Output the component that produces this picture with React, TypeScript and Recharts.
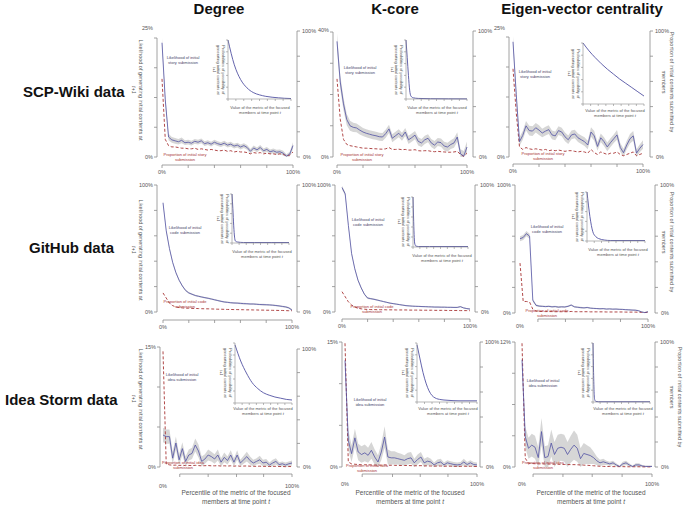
import React from 'react';
import { ComposedChart, LineChart, Line, Area, XAxis, YAxis, ReferenceLine } from 'recharts';

const FONT = '"Liberation Sans", Arial, Helvetica, sans-serif';
const AX = '#8c8c8c';
const TXT = '#555555';
const BLUE = '#5252a3';
const RED = '#a83434';
const BAND = '#d6d6d6';

// ---------- data ----------
const percentile = [0, 2.5, 5, 7.5, 10, 12.5, 15, 17.5, 20, 22.5, 25, 27.5, 30, 32.5, 35, 37.5, 40, 42.5, 45, 47.5, 50, 52.5, 55, 57.5, 60, 62.5, 65, 67.5, 70, 72.5, 75, 77.5, 80, 82.5, 85, 87.5, 90, 92.5, 95, 97.5, 100];

const scpDegreeLikelihood = [24, 12, 4.2, 3.6, 3.4, 3.2, 3.5, 3.0, 3.1, 2.9, 3.3, 3.1, 3.4, 2.8, 3.0, 2.7, 3.1, 2.8, 2.6, 2.9, 2.5, 2.7, 2.3, 2.5, 2.1, 2.4, 2.0, 1.2, 1.9, 1.5, 2.0, 1.3, 1.6, 1.1, 1.3, 1.0, 1.1, 0.8, 0.2, 0.6, 2.4];
const scpDegreeSpread = [1.0, 0.9, 0.7, 0.6, 0.6, 0.6, 0.6, 0.5, 0.5, 0.5, 0.5, 0.5, 0.5, 0.5, 0.5, 0.5, 0.5, 0.5, 0.5, 0.5, 0.5, 0.5, 0.5, 0.5, 0.5, 0.5, 0.5, 0.5, 0.5, 0.5, 0.5, 0.5, 0.5, 0.5, 0.5, 0.5, 0.5, 0.5, 0.4, 0.5, 0.7];
const scpDegreeProportion = [62, 14, 9, 8, 8, 7.5, 7, 7, 6.5, 6.5, 7, 6, 6.5, 6, 5.5, 6, 5.5, 5, 5, 5.5, 4.5, 5, 4, 4.5, 4, 4, 3.5, 2.5, 3.5, 3, 3.5, 2.5, 3, 2.5, 2.5, 2, 2.5, 2, 1, 1.5, 4];

const scpKcoreLikelihood = [37, 24, 17, 12, 10, 9.5, 9.3, 8.6, 8, 7.6, 7.3, 7, 6.8, 6.5, 6.4, 7.5, 9, 6, 6.8, 7.6, 6.5, 8, 5.5, 6.2, 7, 5, 4.5, 5.5, 6, 4.5, 3.8, 4.8, 4.6, 3.5, 3.2, 4, 4.5, 6.4, 1.0, 0.3, 3.2];
const scpKcoreSpread = [2.5, 2.2, 2.0, 1.8, 1.6, 1.5, 1.4, 1.4, 1.3, 1.3, 1.3, 1.3, 1.3, 1.3, 1.3, 1.3, 1.3, 1.3, 1.3, 1.3, 1.3, 1.3, 1.3, 1.3, 1.3, 1.3, 1.3, 1.3, 1.3, 1.3, 1.3, 1.3, 1.3, 1.4, 1.4, 1.4, 1.5, 1.5, 1.5, 1.6, 1.8];
const scpKcoreProportion = [62, 30, 14, 10, 9, 8.5, 8, 7.5, 7, 7, 6.8, 6.6, 6.5, 6.3, 6.2, 6.5, 7.5, 6, 6, 6.2, 5.8, 6, 5.5, 5.5, 5.8, 5, 4.8, 5, 5, 4.5, 4.2, 4.5, 4.2, 4, 3.8, 3.8, 4, 4.5, 2, 0.5, 3];

const scpEigenLikelihood = [24, 13, 3.2, 4.5, 6.5, 5.5, 5.4, 6.1, 5.6, 5.0, 5.4, 5.7, 4.6, 4.4, 5.5, 5.2, 4.2, 3.6, 4.6, 4.8, 4.0, 3.6, 3.2, 2.5, 5.2, 4.4, 2.2, 4.0, 3.2, 2.1, 3.0, 3.8, 4.6, 2.0, 0.9, 2.5, 3.8, 4.4, 0.8, 1.8, 2.6];
const scpEigenSpread = [1.2, 1.1, 0.9, 0.9, 1.0, 1.0, 1.0, 1.0, 1.0, 0.9, 0.9, 0.9, 0.9, 0.9, 0.9, 0.9, 0.9, 0.9, 0.9, 0.9, 0.9, 0.9, 0.9, 0.9, 1.0, 1.0, 0.9, 0.9, 0.9, 0.9, 0.9, 0.9, 1.0, 0.9, 0.8, 0.9, 1.0, 1.0, 0.8, 0.8, 0.9];
const scpEigenProportion = [70, 35, 8, 6, 7.5, 6.5, 6, 6.5, 6, 5.5, 6, 5, 5.5, 5, 5.5, 5, 4.5, 5, 5, 4.5, 4, 4.5, 4, 3, 6, 3.5, 2, 4, 3, 2, 3, 3, 4, 2, 1, 2, 3, 4, 1, 2, 3];

const githubDegreeLikelihood = [86, 64, 50, 39, 31, 25, 20.5, 17, 15, 14, 13, 12.4, 11.8, 11.3, 10.8, 10.2, 9.6, 9.0, 8.4, 7.9, 7.6, 7.3, 7.1, 7.0, 6.8, 6.6, 6.5, 6.3, 6.3, 6.1, 5.9, 5.8, 5.7, 5.6, 5.4, 5.1, 4.8, 4.4, 4.0, 3.3, 1.5];
const githubDegreeSpread = [1.5, 1.2, 1.0, 0.9, 0.8, 0.8, 0.7, 0.7, 0.7, 0.6, 0.6, 0.6, 0.6, 0.6, 0.6, 0.6, 0.6, 0.6, 0.6, 0.6, 0.6, 0.6, 0.6, 0.6, 0.6, 0.6, 0.6, 0.6, 0.6, 0.6, 0.6, 0.6, 0.6, 0.6, 0.6, 0.6, 0.6, 0.6, 0.7, 0.7, 0.8];
const githubDegreeProportion = [15, 11, 7, 5, 4, 3.5, 3.2, 3, 3, 2.8, 2.8, 2.7, 2.6, 2.5, 2.5, 2.4, 2.3, 2.2, 2.2, 2.1, 2, 2, 1.9, 1.9, 1.8, 1.8, 1.7, 1.7, 1.6, 1.6, 1.5, 1.5, 1.4, 1.4, 1.3, 1.3, 1.2, 1.2, 1.1, 1, 1];

const githubKcoreLikelihood = [98, 93, 68, 46, 34, 25, 19, 14, 11, 10.5, 10, 9.4, 8.8, 8.2, 7.6, 7.0, 6.6, 6.2, 5.8, 5.4, 5.0, 4.8, 4.6, 4.5, 4.4, 4.3, 4.2, 4.1, 4.0, 3.9, 3.9, 3.8, 3.8, 3.7, 3.7, 3.6, 3.6, 4.2, 3.2, 2.7, 2.3];
const githubKcoreSpread = [1.5, 1.5, 1.3, 1.2, 1.0, 0.9, 0.8, 0.7, 0.7, 0.6, 0.6, 0.6, 0.5, 0.5, 0.5, 0.5, 0.5, 0.5, 0.5, 0.5, 0.5, 0.5, 0.5, 0.5, 0.5, 0.5, 0.5, 0.5, 0.5, 0.5, 0.5, 0.5, 0.5, 0.5, 0.5, 0.5, 0.5, 0.5, 0.5, 0.5, 0.6];
const githubKcoreProportion = [16, 12, 8, 5.5, 4, 3, 2.5, 2.2, 2, 1.9, 1.9, 1.8, 1.8, 1.8, 1.7, 1.7, 1.7, 1.6, 1.6, 1.6, 1.6, 1.5, 1.5, 1.5, 1.5, 1.4, 1.4, 1.4, 1.4, 1.3, 1.3, 1.3, 1.3, 1.2, 1.2, 1.2, 1.2, 1.1, 1.1, 1.1, 1];

const githubEigenLikelihood = [58, 59, 62, 60, 10, 6, 5.4, 5.2, 5.0, 5.2, 4.8, 5.0, 4.6, 4.8, 4.7, 5.2, 6.2, 4.8, 4.5, 4.2, 4.0, 4.3, 3.8, 3.6, 3.5, 3.3, 3.4, 3.1, 3.2, 3.0, 3.1, 2.9, 2.8, 2.6, 2.5, 2.3, 2.2, 1.8, 0.8, 0.3, 1.0];
const githubEigenSpread = [2.0, 2.0, 2.0, 2.0, 1.2, 0.8, 0.7, 0.6, 0.6, 0.6, 0.6, 0.6, 0.6, 0.6, 0.6, 0.6, 0.6, 0.6, 0.6, 0.6, 0.5, 0.5, 0.5, 0.5, 0.5, 0.5, 0.5, 0.5, 0.5, 0.5, 0.5, 0.5, 0.5, 0.5, 0.5, 0.5, 0.5, 0.5, 0.5, 0.5, 0.5];
const githubEigenProportion = [39, 9, 9, 8.5, 3, 1.5, 1.2, 1.2, 1.1, 1.1, 1.1, 1, 1, 1, 1, 1, 1.2, 1, 1, 1, 1, 1, 0.9, 0.9, 0.9, 0.9, 0.9, 0.8, 0.8, 0.8, 0.8, 0.8, 0.8, 0.7, 0.7, 0.7, 0.7, 0.6, 0.5, 0.4, 0.5];

const ideaDegreeLikelihood = [4.0, 3.8, 3.8, 1.1, 3.0, 0.9, 2.3, 0.7, 1.5, 1.7, 2.75, 2.0, 0.7, 1.0, 1.5, 1.3, 1.0, 1.5, 0.6, 1.2, 0.8, 1.5, 0.6, 1.5, 0.5, 0.9, 1.3, 0.8, 0.5, 0.7, 0.9, 0.5, 0.6, 0.25, 0.5, 0.7, 0.3, 0.4, 0.25, 0.4, 0.5];
const ideaDegreeSpread = [0.9, 0.9, 0.9, 0.8, 0.8, 0.7, 0.8, 0.6, 0.7, 0.7, 0.8, 0.8, 0.6, 0.6, 0.7, 0.6, 0.6, 0.7, 0.5, 0.6, 0.5, 0.6, 0.5, 0.6, 0.4, 0.5, 0.6, 0.5, 0.4, 0.4, 0.5, 0.4, 0.4, 0.3, 0.4, 0.4, 0.3, 0.3, 0.3, 0.3, 0.3];
const ideaDegreeProportion = [98, 2.5, 1.8, 1.5, 1.6, 1.3, 1.5, 1.2, 1.3, 1.2, 1.4, 1.2, 1.0, 1.1, 1.2, 1.0, 1.0, 1.1, 0.8, 1.0, 0.8, 1.0, 0.7, 1.0, 0.6, 0.8, 0.9, 0.7, 0.6, 0.6, 0.7, 0.5, 0.6, 0.4, 0.5, 0.6, 0.4, 0.4, 0.3, 0.4, 0.4];

const ideaKcoreLikelihood = [12.8, 3.2, 1.6, 3.5, 1.8, 1.5, 1.7, 1.4, 2.0, 1.2, 0.6, 1.8, 3.6, 1.2, 1.1, 1.1, 1.0, 0.9, 0.8, 1.0, 1.1, 0.5, 0.9, 1.2, 0.5, 0.7, 0.6, 0.25, 0.5, 0.6, 0.25, 0.5, 0.4, 0.3, 0.25, 0.3, 0.6, 0.3, 0.5, 0.3, 0.25];
const ideaKcoreSpread = [1.2, 1.2, 1.0, 1.1, 1.0, 1.0, 1.0, 0.9, 1.0, 0.9, 0.8, 1.0, 1.3, 0.9, 0.8, 0.8, 0.7, 0.7, 0.6, 0.7, 0.7, 0.5, 0.6, 0.6, 0.5, 0.5, 0.4, 0.3, 0.4, 0.4, 0.3, 0.3, 0.3, 0.3, 0.3, 0.3, 0.4, 0.3, 0.3, 0.3, 0.3];
const ideaKcoreProportion = [99, 4, 2.5, 2.2, 2, 1.8, 1.8, 1.7, 1.7, 1.6, 1.5, 1.5, 1.8, 1.4, 1.4, 1.3, 1.3, 1.2, 1.2, 1.2, 1.1, 1.0, 1.0, 1.1, 0.9, 0.9, 0.8, 0.7, 0.8, 0.8, 0.6, 0.7, 0.6, 0.6, 0.5, 0.5, 0.7, 0.5, 0.6, 0.5, 0.4];

const ideaEigenLikelihood = [10.3, 2.9, 1.8, 2.1, 1.9, 0.9, 3.4, 0.9, 1.0, 2.3, 1.2, 1.8, 1.9, 1.8, 1.2, 1.7, 2.1, 1.8, 0.8, 1.3, 1.2, 1.1, 0.9, 0.6, 0.4, 0.5, 0.4, 0.3, 0.4, 0.2, 0.05, 0.3, 0.4, 0.2, 0.05, 0.2, 0.2, 0.1, 0.05, 0.05, 0.05];
const ideaEigenSpread = [0.8, 1.0, 1.0, 1.1, 1.1, 1.0, 1.3, 1.1, 1.1, 1.3, 1.2, 1.3, 1.3, 1.3, 1.2, 1.3, 1.4, 1.3, 1.0, 1.0, 0.9, 0.8, 0.6, 0.4, 0.3, 0.3, 0.2, 0.2, 0.2, 0.15, 0.1, 0.2, 0.2, 0.15, 0.1, 0.15, 0.15, 0.1, 0.1, 0.1, 0.1];
const ideaEigenProportion = [99, 7, 3, 2.8, 2.6, 2.5, 2.5, 2.4, 2.4, 2.3, 2.2, 2.2, 2.1, 2.0, 2.0, 1.9, 1.9, 1.8, 1.6, 1.5, 1.4, 1.2, 1.0, 0.8, 0.6, 0.5, 0.4, 0.4, 0.3, 0.3, 0.3, 0.3, 0.2, 0.2, 0.2, 0.2, 0.2, 0.1, 0.1, 0.1, 0.1];

// inset curves (metric value vs. probability, normalised)
const scpDegreeInsetX = [0, 1, 2, 3, 4, 5, 6, 7, 8, 9, 10];
const scpDegreeInsetY = [1.0, 0.58, 0.33, 0.19, 0.11, 0.07, 0.045, 0.03, 0.02, 0.012, 0.008];
const scpKcoreInsetX = [0, 0.2, 0.4, 0.6, 0.8, 1.2, 2, 4, 7, 10];
const scpKcoreInsetY = [1.0, 0.7, 0.4, 0.15, 0.05, 0.02, 0.01, 0.005, 0.003, 0.002];
const scpEigenInsetX = [0, 1, 2, 3, 4, 5, 6, 7, 8, 9, 10];
const scpEigenInsetY = [1.0, 0.87, 0.76, 0.66, 0.57, 0.49, 0.41, 0.34, 0.27, 0.2, 0.13];
const githubDegreeInsetX = [0, 0.15, 0.3, 0.45, 0.6, 1, 2, 4, 7, 10];
const githubDegreeInsetY = [1.0, 0.7, 0.35, 0.12, 0.04, 0.02, 0.01, 0.01, 0.01, 0.01];
const githubKcoreInsetX = [0, 0.1, 0.2, 0.3, 0.5, 1, 3, 10];
const githubKcoreInsetY = [1.0, 0.6, 0.25, 0.08, 0.02, 0.01, 0.01, 0.01];
const githubEigenInsetX = [0, 0.5, 1, 1.5, 2, 3, 4, 10];
const githubEigenInsetY = [1.0, 0.5, 0.19, 0.09, 0.05, 0.02, 0.01, 0.01];
const ideaDegreeInsetX = [0, 1, 2, 3, 4, 5, 6, 7, 8, 9, 10];
const ideaDegreeInsetY = [0.97, 0.7, 0.5, 0.34, 0.24, 0.17, 0.13, 0.1, 0.08, 0.06, 0.05];
const ideaKcoreInsetX = [0, 0.5, 1, 1.5, 2, 2.5, 3, 4, 5, 7, 10];
const ideaKcoreInsetY = [0.97, 0.73, 0.5, 0.32, 0.19, 0.11, 0.07, 0.04, 0.03, 0.02, 0.02];
const ideaEigenInsetX = [0, 0.1, 0.2, 0.3, 0.5, 1, 10];
const ideaEigenInsetY = [1.0, 0.5, 0.15, 0.04, 0.01, 0.005, 0.005];

const columnTitles = ['Degree', 'K-core', 'Eigen-vector centrality'];
const rowTitles = ['SCP-Wiki data', 'GitHub data', 'Idea Storm data'];
const contentWords = ['story', 'code', 'idea'];
const fullXTicks = [0, 20, 40, 60, 80, 100];
const rightTicks = [0, 20, 40, 60, 80, 100];
const insetXTicks = [0, 1.25, 2.5, 3.75, 5, 6.25, 7.5, 8.75, 10];
const insetYTicks = [0, 0.2, 0.4, 0.6, 0.8, 1];

// ---------- layout ----------
const panels = [
  { row: 0, lik: scpDegreeLikelihood, spread: scpDegreeSpread, prop: scpDegreeProportion, maxL: 25, ticksL: [0, 6.25, 12.5, 18.75, 25], ix: scpDegreeInsetX, iy: scpDegreeInsetY,
    geo: { leftX: 157, rightX: 297, x0: 162, x100: 293, topL: 38, topR: 31, zeroY: 157, axisY: 165, xTicks: fullXTicks, xStart: 0, xLabelDy: 9, topDy: -8 },
    inset: { axisX: 228, top: 40, bottom: 99, right: 291, labelX: 260, labelY: 105 },
    ann: { lx: 183, ly: 55, px: 185, py: 152 } },
  { row: 0, lik: scpKcoreLikelihood, spread: scpKcoreSpread, prop: scpKcoreProportion, maxL: 40, ticksL: [0, 10, 20, 30, 40], ix: scpKcoreInsetX, iy: scpKcoreInsetY,
    geo: { leftX: 333, rightX: 473, x0: 337, x100: 467, topL: 32, topR: 31, zeroY: 157, axisY: 165, xTicks: fullXTicks, xStart: 0, xLabelDy: 9, topDy: 0 },
    inset: { axisX: 406, top: 40, bottom: 99, right: 467, labelX: 437, labelY: 105 },
    ann: { lx: 360, ly: 65, px: 362, py: 152 } },
  { row: 0, lik: scpEigenLikelihood, spread: scpEigenSpread, prop: scpEigenProportion, maxL: 25, ticksL: [0, 6.25, 12.5, 18.75, 25], ix: scpEigenInsetX, iy: scpEigenInsetY,
    geo: { leftX: 509, rightX: 650, x0: 513, x100: 643, topL: 37, topR: 31, zeroY: 157, axisY: 164, xTicks: fullXTicks, xStart: 0, xLabelDy: 9, topDy: -7 },
    inset: { axisX: 583, top: 43, bottom: 104, right: 644, labelX: 615, labelY: 108 },
    ann: { lx: 535, ly: 69, px: 543, py: 151 } },
  { row: 1, lik: githubDegreeLikelihood, spread: githubDegreeSpread, prop: githubDegreeProportion, maxL: 100, ticksL: [0, 20, 40, 60, 80, 100], ix: githubDegreeInsetX, iy: githubDegreeInsetY,
    geo: { leftX: 157, rightX: 297, x0: 163, x100: 292, topL: 185, topR: 185, zeroY: 312, axisY: 320, xTicks: fullXTicks, xStart: 0, xLabelDy: 9, topDy: 2 },
    inset: { axisX: 232, top: 194, bottom: 243, right: 289, labelX: 262, labelY: 249 },
    ann: { lx: 185, ly: 225, px: 185, py: 299 } },
  { row: 1, lik: githubKcoreLikelihood, spread: githubKcoreSpread, prop: githubKcoreProportion, maxL: 100, ticksL: [0, 20, 40, 60, 80, 100], ix: githubKcoreInsetX, iy: githubKcoreInsetY,
    geo: { leftX: 335, rightX: 475, x0: 342, x100: 470, topL: 185, topR: 185, zeroY: 312, axisY: 319, xTicks: fullXTicks, xStart: 0, xLabelDy: 9, topDy: 2 },
    inset: { axisX: 413, top: 197, bottom: 247, right: 468, labelX: 442, labelY: 253 },
    ann: { lx: 368, ly: 217, px: 372, py: 304 } },
  { row: 1, lik: githubEigenLikelihood, spread: githubEigenSpread, prop: githubEigenProportion, maxL: 100, ticksL: [0, 20, 40, 60, 80, 100], ix: githubEigenInsetX, iy: githubEigenInsetY,
    geo: { leftX: 515, rightX: 655, x0: 520, x100: 648, topL: 185, topR: 185, zeroY: 313, axisY: 319, xTicks: [14, 35.5, 57, 78.5, 100], xStart: 14, xLabelDy: 9, topDy: 2 },
    inset: { axisX: 587, top: 192, bottom: 241, right: 645, labelX: 618, labelY: 247 },
    ann: { lx: 547, ly: 224, px: 547, py: 308 } },
  { row: 2, lik: ideaDegreeLikelihood, spread: ideaDegreeSpread, prop: ideaDegreeProportion, maxL: 15, ticksL: [0, 5, 10, 15], ix: ideaDegreeInsetX, iy: ideaDegreeInsetY,
    geo: { leftX: 160, rightX: 297, x0: 163, x100: 292, topL: 347, topR: 349, zeroY: 467, axisY: 474, xTicks: [13, 35, 57, 78, 100], xStart: 13, xLabelDy: 14, topDy: 2 },
    inset: { axisX: 235, top: 343, bottom: 403, right: 292, labelX: 263, labelY: 406 },
    ann: { lx: 182, ly: 372, px: 183, py: 460 } },
  { row: 2, lik: ideaKcoreLikelihood, spread: ideaKcoreSpread, prop: ideaKcoreProportion, maxL: 15, ticksL: [0, 5, 10, 15], ix: ideaKcoreInsetX, iy: ideaKcoreInsetY,
    geo: { leftX: 342, rightX: 480, x0: 345, x100: 477, topL: 342, topR: 342, zeroY: 467, axisY: 474, xTicks: [13, 36, 57, 78, 100], xStart: 13, xLabelDy: 12, topDy: 2 },
    inset: { axisX: 417, top: 343, bottom: 402, right: 477, labelX: 448, labelY: 406 },
    ann: { lx: 370, ly: 397, px: 367, py: 463 } },
  { row: 2, lik: ideaEigenLikelihood, spread: ideaEigenSpread, prop: ideaEigenProportion, maxL: 12, ticksL: [0, 3, 6, 9, 12], ix: ideaEigenInsetX, iy: ideaEigenInsetY,
    geo: { leftX: 515, rightX: 655, x0: 522, x100: 652, topL: 342, topR: 342, zeroY: 467, axisY: 474, xTicks: [8.5, 31.5, 54, 77, 100], xStart: 8.5, xLabelDy: 12, topDy: 2 },
    inset: { axisX: 593, top: 343, bottom: 402, right: 650, labelX: 623, labelY: 406 },
    ann: { lx: 543, ly: 378, px: 543, py: 460 } },
];

const YW = 30;
const XH = 24;
const MT = 14;

function MainPanel({ p }: { p: any }) {
  const g = p.geo;
  const plotTop = Math.min(g.topL, g.topR);
  const pxL = (g.zeroY - g.topL) / p.maxL;
  const lMin = -(g.axisY - g.zeroY) / pxL;
  const lMax = (g.zeroY - plotTop) / pxL;
  const pxR = (g.zeroY - g.topR) / 100;
  const rMin = -(g.axisY - g.zeroY) / pxR;
  const rMax = (g.zeroY - plotTop) / pxR;
  const pxX = (g.x100 - g.x0) / 100;
  const xMin = -(g.x0 - g.leftX) / pxX;
  const xMax = 100 + (g.rightX - g.x100) / pxX;
  const data = percentile.map((x, i) => ({
    x,
    lik: p.lik[i],
    band: [Math.max(0, p.lik[i] - p.spread[i]), p.lik[i] + p.spread[i]],
    prop: p.prop[i],
  }));
  const xTickSet = Array.from(new Set([0, ...g.xTicks, 100])).sort((a: number, b: number) => a - b);
  const width = g.rightX - g.leftX + 2 * YW;
  const height = g.axisY - plotTop + MT + XH;

  const xTick = (props: any) => {
    const { x, y, payload } = props;
    const v = payload.value;
    const base = y - 3;
    return (
      <g>
        {g.xTicks.includes(v) && <line x1={x} x2={x} y1={base} y2={base + 3} stroke={AX} strokeWidth={0.8} />}
        {(v === 0 || v === 100) && (
          <text x={x} y={base + g.xLabelDy} textAnchor="middle" fontSize={5.5} fill={TXT} fontFamily={FONT}>{v}%</text>
        )}
      </g>
    );
  };
  const lTick = (props: any) => {
    const { x, y, payload } = props;
    const v = payload.value;
    if (v === 0) return <text x={x} y={y + 2} textAnchor="end" fontSize={5.5} fill={TXT} fontFamily={FONT}>0%</text>;
    if (v === p.maxL) return <text x={x} y={y + g.topDy} textAnchor="end" fontSize={5.5} fill={TXT} fontFamily={FONT}>{p.maxL}%</text>;
    return <g />;
  };
  const rTick = (props: any) => {
    const { x, y, payload } = props;
    const v = payload.value;
    if (v === 0) return <text x={x + 2} y={y + 2} textAnchor="start" fontSize={5.5} fill={TXT} fontFamily={FONT}>0%</text>;
    if (v === 100) return <text x={x + 1} y={y + 2} textAnchor="start" fontSize={5.5} fill={TXT} fontFamily={FONT}>100%</text>;
    return <g />;
  };

  return (
    <div style={{ position: 'absolute', left: g.leftX - YW, top: plotTop - MT }}>
      <ComposedChart width={width} height={height} data={data} margin={{ top: MT, right: 0, bottom: 0, left: 0 }}>
        <XAxis xAxisId="x" dataKey="x" type="number" domain={[xMin, xMax]} allowDataOverflow ticks={xTickSet} interval={0}
          axisLine={false} tickLine={false} tickSize={3} tickMargin={0} height={XH} tick={xTick} />
        <YAxis yAxisId="l" orientation="left" type="number" domain={[lMin, lMax]} allowDataOverflow ticks={p.ticksL} interval={0}
          width={YW} axisLine={false} tickLine={{ stroke: AX, strokeWidth: 0.8 }} tickSize={3} tickMargin={1} tick={lTick} />
        <YAxis yAxisId="r" orientation="right" type="number" domain={[rMin, rMax]} allowDataOverflow ticks={rightTicks} interval={0}
          width={YW} axisLine={false} tickLine={{ stroke: AX, strokeWidth: 0.8 }} tickSize={3} tickMargin={1} tick={rTick} />
        <Area xAxisId="x" yAxisId="l" dataKey="band" type="linear" stroke="none" fill={BAND} fillOpacity={1} isAnimationActive={false} />
        <Line xAxisId="x" yAxisId="r" dataKey="prop" type="linear" stroke={RED} strokeWidth={0.9} strokeDasharray="3 2" dot={false} isAnimationActive={false} />
        <Line xAxisId="x" yAxisId="l" dataKey="lik" type="linear" stroke={BLUE} strokeWidth={0.8} dot={false} isAnimationActive={false} />
        <ReferenceLine xAxisId="x" yAxisId="l" ifOverflow="visible" stroke={AX} strokeWidth={0.8}
          segment={[{ x: xMin, y: 0 }, { x: xMin, y: p.maxL }]} />
        <ReferenceLine xAxisId="x" yAxisId="r" ifOverflow="visible" stroke={AX} strokeWidth={0.8}
          segment={[{ x: xMax, y: 0 }, { x: xMax, y: 100 }]} />
        <ReferenceLine xAxisId="x" yAxisId="l" ifOverflow="visible" stroke={AX} strokeWidth={0.8}
          segment={[{ x: g.xStart, y: lMin }, { x: 100, y: lMin }]} />
      </ComposedChart>
    </div>
  );
}

const emptyTick = () => <g />;

function InsetPanel({ p }: { p: any }) {
  const q = p.inset;
  const IW = 3, IH = 3, IT = 2, IR = 2;
  const data = p.ix.map((x: number, i: number) => ({ x, y: p.iy[i] }));
  const width = q.right - q.axisX + IW + IR;
  const height = q.bottom - q.top + IT + IH;
  return (
    <div style={{ position: 'absolute', left: q.axisX - IW, top: q.top - IT }}>
      <LineChart width={width} height={height} data={data} margin={{ top: IT, right: IR, bottom: 0, left: 0 }}>
        <XAxis dataKey="x" type="number" domain={[0, 10]} ticks={insetXTicks} interval={0} height={IH} tickSize={2}
          tick={emptyTick} axisLine={{ stroke: AX, strokeWidth: 0.6 }} tickLine={{ stroke: AX, strokeWidth: 0.6 }} />
        <YAxis type="number" domain={[0, 1]} ticks={insetYTicks} interval={0} width={IW} tickSize={2}
          tick={emptyTick} axisLine={{ stroke: AX, strokeWidth: 0.6 }} tickLine={{ stroke: AX, strokeWidth: 0.6 }} />
        <Line dataKey="y" type="monotone" stroke={BLUE} strokeWidth={0.9} dot={false} isAnimationActive={false} />
      </LineChart>
    </div>
  );
}

const abs = (extra: any): any => ({ position: 'absolute', fontFamily: FONT, whiteSpace: 'nowrap', ...extra });

function CenterText({ x, y, size, lh, color, children, weight }: any) {
  return (
    <div style={abs({ left: x - 100, top: y, width: 200, textAlign: 'center', fontSize: size, lineHeight: `${lh}px`, color, fontWeight: weight || 'normal' })}>
      {children}
    </div>
  );
}

// text rotated 90deg clockwise; (cx, cy) is the centre of the block, first line ends up on the right
function RotatedText({ cx, cy, len, lines, size, lh, color, children }: any) {
  const h = lines * lh;
  return (
    <div style={abs({ left: cx - len / 2, top: cy - h / 2, width: len, height: h, textAlign: 'center', fontSize: size, lineHeight: `${lh}px`, color, transform: 'rotate(90deg)', transformOrigin: '50% 50%' })}>
      {children}
    </div>
  );
}

export default function App() {
  const colCenters = [219, 395, 582];
  const rowTitlePos = [{ x: 23, y: 83 }, { x: 29, y: 239 }, { x: 5, y: 391 }];
  const leftLabelCy = [90, 250, 399];
  const rightLabel = [{ cx: 668, cy: 82 }, { cx: 668, cy: 242 }, { cx: 676, cy: 397 }];
  const bottomCenters = [236, 410, 591];
  return (
    <div style={{ position: 'absolute', left: 0, top: 0, width: 685, height: 505, background: '#ffffff', overflow: 'hidden', fontFamily: FONT }}>
      {columnTitles.map((t, i) => (
        <CenterText key={t} x={colCenters[i]} y={0} size={15} lh={18} color="#111" weight="bold">{t}</CenterText>
      ))}
      {rowTitles.map((t, i) => (
        <div key={t} style={abs({ left: rowTitlePos[i].x, top: rowTitlePos[i].y, fontSize: 15, lineHeight: '18px', fontWeight: 'bold', color: '#111' })}>{t}</div>
      ))}
      {leftLabelCy.map((cy, i) => (
        <RotatedText key={'ll' + i} cx={137} cy={cy} len={130} lines={2} size={5.5} lh={7} color={TXT}>
          Likelihood of generating initial contents at<br /><i>t+1</i>
        </RotatedText>
      ))}
      {rightLabel.map((r, i) => (
        <RotatedText key={'rl' + i} cx={r.cx} cy={r.cy} len={130} lines={2} size={5.5} lh={8} color={TXT}>
          Proportion of initial contents submitted by<br />members
        </RotatedText>
      ))}

      {panels.map((p, i) => <MainPanel key={'m' + i} p={p} />)}
      {panels.map((p, i) => <InsetPanel key={'i' + i} p={p} />)}

      {panels.map((p, i) => (
        <React.Fragment key={'t' + i}>
          <CenterText x={p.ann.lx} y={p.ann.ly} size={4} lh={5} color="#45456a">
            Likelihood of initial<br />{contentWords[p.row]} submission
          </CenterText>
          <CenterText x={p.ann.px} y={p.ann.py} size={4} lh={5} color={RED}>
            Proportion of initial {contentWords[p.row]}<br />submission
          </CenterText>
          <CenterText x={p.inset.labelX} y={p.inset.labelY} size={4} lh={5} color={TXT}>
            Value of the metric of the focused<br />members at time point <i>t</i>
          </CenterText>
          <RotatedText cx={p.inset.axisX - 10} cy={(p.inset.top + p.inset.bottom) / 2} len={80} lines={3} size={4} lh={4.5} color={TXT}>
            Probabilities of possibility of<br />generating initial contents at<br /><i>t+1</i>
          </RotatedText>
        </React.Fragment>
      ))}

      {bottomCenters.map((c, i) => (
        <CenterText key={'b' + i} x={c} y={488} size={6.5} lh={9} color={TXT}>
          Percentile of the metric of the focused<br />members at time point <i>t</i>
        </CenterText>
      ))}
    </div>
  );
}
